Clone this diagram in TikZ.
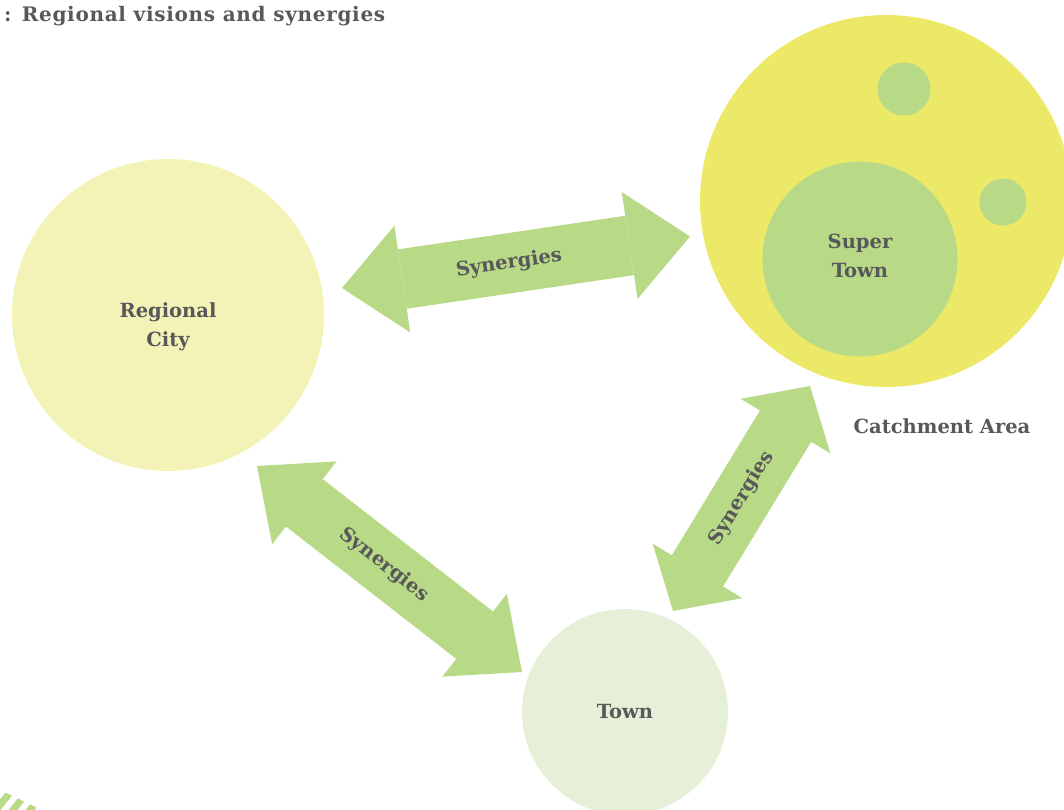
\documentclass[tikz,border=0pt]{standalone}
\usepackage{fontspec}
\setmainfont{DejaVu Serif}
\usepackage{tikz}
\usetikzlibrary{arrows.meta,positioning,calc}
\definecolor{syngreen}{RGB}{184,217,134}
\definecolor{cityfill}{RGB}{244,243,183}
\definecolor{areafill}{RGB}{236,233,104}
\definecolor{townfill}{RGB}{230,240,217}
\definecolor{txtgrey}{RGB}{88,88,90}
\tikzset{
	place/.style={circle,inner sep=0pt,outer sep=0pt,draw=none},
	txt/.style={align=center,text=txtgrey,font=\fontsize{19.5}{29.5}\selectfont\bfseries,inner sep=0pt},
	syn/.style={draw=syngreen,line width=60pt,
		{Triangle[line width=0pt,length=61pt,width=108pt]}-{Triangle[line width=0pt,length=61pt,width=108pt]}},
	hatch/.style={draw=syngreen,line width=7pt}}

\begin{document}
\begin{tikzpicture}[x=1pt,y=-1pt]
	\useasboundingbox (0,0) rectangle (1064,810);
	\clip (0,0) rectangle (1064,810);
	\node (title) at (4,16) [txt,anchor=west,font=\fontsize{20}{24}\selectfont\bfseries\addfontfeature{LetterSpace=3.5}] {: Regional visions and synergies};
	% circles
	\node (city) at (168,315) [place,fill=cityfill,minimum size=312pt] {};
	\node (area) at (886,201) [place,fill=areafill,minimum size=372pt] {};
	\node (sat1) at (904,89) [place,fill=syngreen,minimum size=53pt] {};
	\node (sat2) at (1003,202) [place,fill=syngreen,minimum size=47pt] {};
	\node (super) at (860,259) [place,fill=syngreen,minimum size=195pt] {};
	\node (town) at (625,712) [place,fill=townfill,minimum size=206pt] {};
	\node at (168,327) [txt] {Regional\\City};
	\node at (860,256) [txt] {Super\\Town};
	\node at (625,712) [txt] {Town};
	\node (areatxt) at (942,426) [txt] {Catchment Area};
	% arrow ends
	\coordinate (s1a) at (342,288);
	\coordinate (s1b) at (690,236.5);
	\coordinate (s2a) at (673,611);
	\coordinate (s2b) at (810,386);
	\coordinate (s3a) at (257,466);
	\coordinate (s3b) at (522,672);
	\draw [syn] (s1a) -- node[txt,sloped,pos=0.48]{Synergies} (s1b);
	\draw [syn,{Triangle[line width=0pt,length=47pt,width=105pt]}-{Triangle[line width=0pt,length=47pt,width=105pt]}] (s2a) -- node[txt,sloped]{Synergies} (s2b);
	\draw [syn,{Triangle[line width=0pt,length=60pt,width=105pt]}-{Triangle[line width=0pt,length=60pt,width=105pt]}] (s3a) -- node[txt,sloped,pos=0.48]{Synergies} (s3b);
	% corner hatching
	\begin{scope}
		\clip (0,790) -- (46,812) -- (0,812) -- cycle;
		\foreach \k in {-1,...,3}
			\draw [hatch] (\k*17-8,815) -- (\k*17+16,785);
	\end{scope}
\end{tikzpicture}
\end{document}
